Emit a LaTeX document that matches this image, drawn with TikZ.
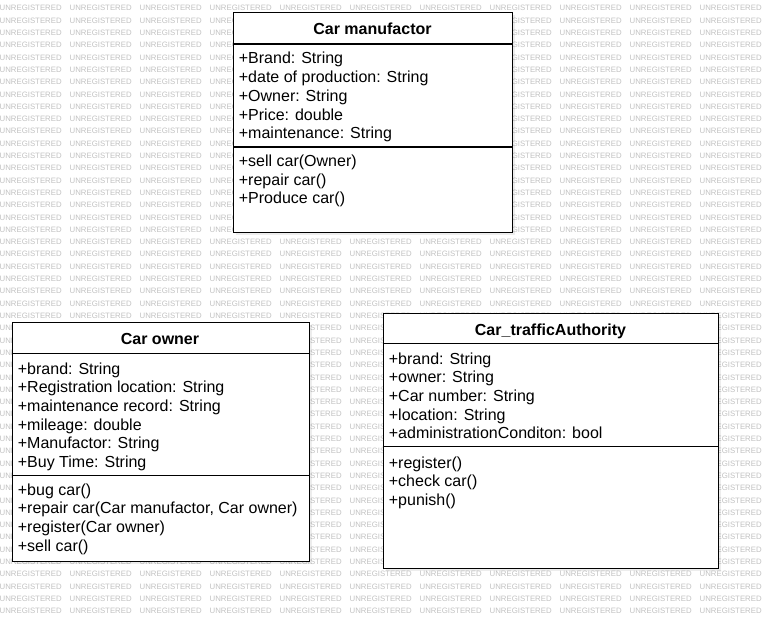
\documentclass[tikz,border=0pt]{standalone}
\usepackage{fontspec}
\setmainfont{Liberation Sans}
\begin{document}
\begin{tikzpicture}[x=1pt,y=-1pt,
  wm/.style={font=\fontsize{7.8}{8}\selectfont, text=black!24, inner sep=0pt, anchor=base west},
  umlbox/.style={draw=black, line width=1.1pt, fill=white, anchor=north west, inner sep=0pt},
  shadowbox/.style={fill=black, opacity=0.07, anchor=north west, inner sep=0pt, draw=none},
  sepline/.style={draw=black, line width=1.1pt},
  title/.style={font=\fontsize{16}{18.7}\selectfont\bfseries, inner sep=0pt, anchor=base},
  member/.style={font=\fontsize{16}{18.7}\selectfont, inner sep=0pt, anchor=base west}]
\useasboundingbox (0,0) rectangle (768,620);
\fill[white] (0,0) rectangle (768,620);
% watermark (copies hidden entirely behind a box are left out)
\foreach \r in {0,...,49}{
  \foreach \c in {0,...,10}{
    \pgfmathsetmacro\xx{70*\c-0.5}
    \pgfmathsetmacro\yy{11+12.3*\r}
    \pgfmathtruncatemacro\hide{((\xx>=233) && (\xx+63<=512) && (\yy-7>=12) && (\yy+1<=232)) || ((\xx>=11.5) && (\xx+63<=308.5) && (\yy-7>=322) && (\yy+1<=560.5)) || ((\xx>=382.5) && (\xx+63<=718) && (\yy-7>=312.5) && (\yy+1<=568))}
    \ifnum\hide=0
      \node[wm] (wm-\r-\c) at (\xx,\yy) {UNREGISTERED};
    \fi
  }
}
% shadows
\node[shadowbox, minimum width=279pt, minimum height=220pt] (sh-man) at (236,15) {};
\node[shadowbox, minimum width=297pt, minimum height=238.5pt] (sh-own) at (14.5,325) {};
\node[shadowbox, minimum width=335.5pt, minimum height=255.5pt] (sh-tra) at (385.5,315.5) {};
% boxes
\node[umlbox, minimum width=279pt, minimum height=220pt] (man) at (233,12) {};
\node[umlbox, minimum width=297pt, minimum height=238.5pt] (own) at (11.5,322) {};
\node[umlbox, minimum width=335.5pt, minimum height=255.5pt] (tra) at (382.5,312.5) {};
% separators
\draw[sepline] ([yshift=-32pt]man.north west) -- ([yshift=-32pt]man.north east);
\draw[sepline] ([yshift=-135pt]man.north west) -- ([yshift=-135pt]man.north east);
\draw[sepline] ([yshift=-31.5pt]own.north west) -- ([yshift=-31.5pt]own.north east);
\draw[sepline] ([yshift=-153.5pt]own.north west) -- ([yshift=-153.5pt]own.north east);
\draw[sepline] ([yshift=-31pt]tra.north west) -- ([yshift=-31pt]tra.north east);
\draw[sepline] ([yshift=-134pt]tra.north west) -- ([yshift=-134pt]tra.north east);
% titles
\node[title] (man-t) at (372.5,34.5) {Car manufactor};
\node[title] (own-t) at (160,344) {Car owner};
\node[title] (tra-t) at (550.5,335) {Car\_trafficAuthority};
% Car manufactor
\foreach \t [count=\i] in {{+Brand: String},{+date of production: String},{+Owner: String},{+Price: double},{+maintenance: String}}
  \node[member] (man-a\i) at (238.7,{64+18.7*(\i-1)}) {\t};
\foreach \t [count=\i] in {{+sell car(Owner)},{+repair car()},{+Produce car()}}
  \node[member] (man-m\i) at (238.7,{166.5+18.7*(\i-1)}) {\t};
% Car owner
\foreach \t [count=\i] in {{+brand: String},{+Registration location: String},{+maintenance record: String},{+mileage: double},{+Manufactor: String},{+Buy Time: String}}
  \node[member] (own-a\i) at (17.7,{374+18.7*(\i-1)}) {\t};
\foreach \t [count=\i] in {{+bug car()},{+repair car(Car manufactor, Car owner)},{+register(Car owner)},{+sell car()}}
  \node[member] (own-m\i) at (17.7,{495+18.7*(\i-1)}) {\t};
% Car_trafficAuthority
\foreach \t [count=\i] in {{+brand: String},{+owner: String},{+Car number: String},{+location: String},{+administrationConditon: bool}}
  \node[member] (tra-a\i) at (388.7,{364+18.7*(\i-1)}) {\t};
\foreach \t [count=\i] in {{+register()},{+check car()},{+punish()}}
  \node[member] (tra-m\i) at (388.7,{468.3+18.5*(\i-1)}) {\t};
\end{tikzpicture}
\end{document}
